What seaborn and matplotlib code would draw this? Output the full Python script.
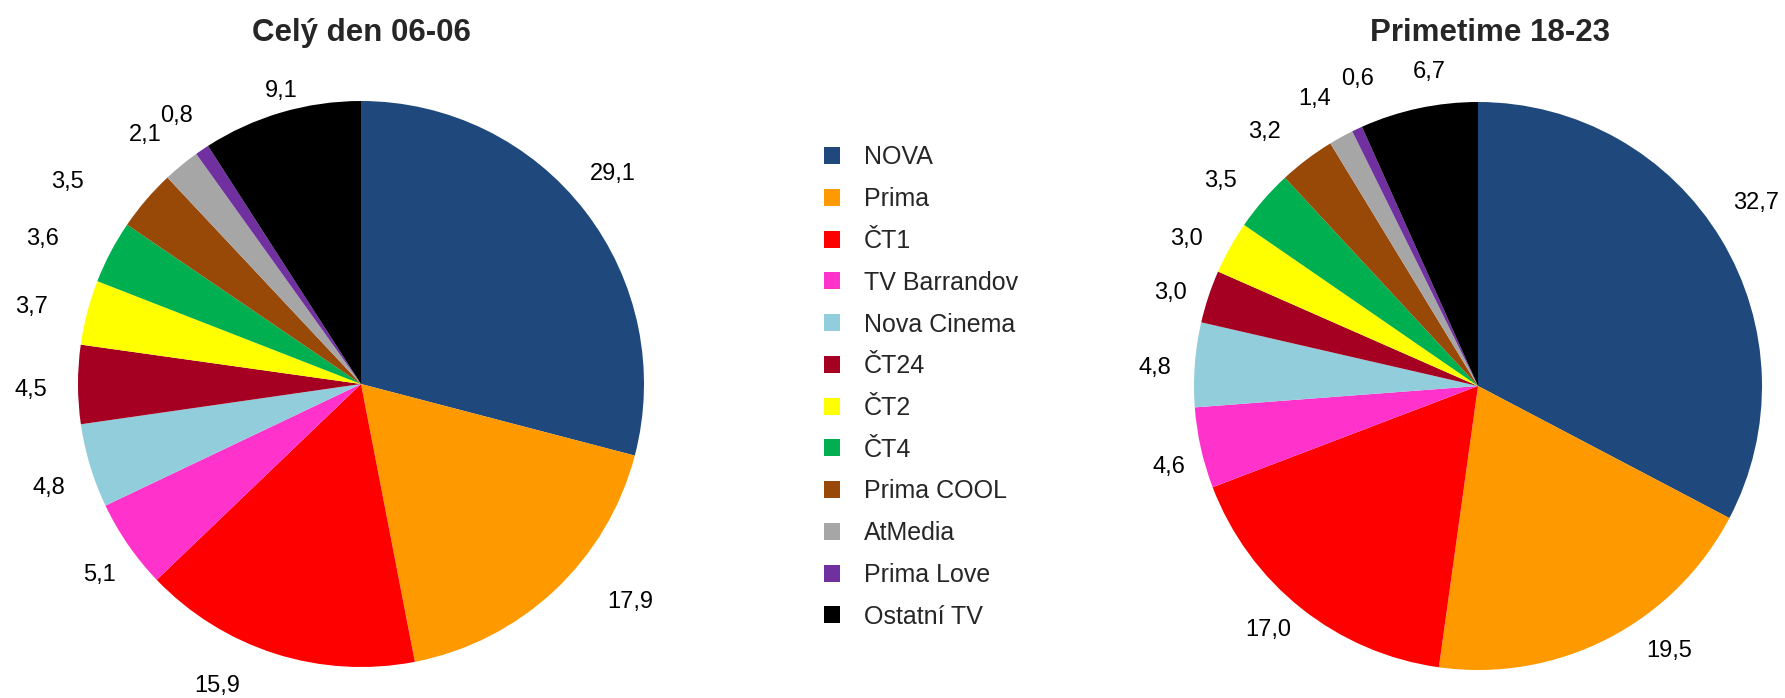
"""
Podíl sledovanosti stanic - celý den vs. primetime, dva koláče se společnou legendou.
"""
import matplotlib
matplotlib.use("Agg")
import matplotlib.pyplot as plt
from matplotlib.patches import Patch
import seaborn as sns

# ── data ─────────────────────────────────────────────────────────────────────
stations = ["NOVA", "Prima", "ČT1", "TV Barrandov", "Nova Cinema", "ČT24",
            "ČT2", "ČT4", "Prima COOL", "AtMedia", "Prima Love", "Ostatní TV"]
share_day   = [29.1, 17.9, 15.9, 5.1, 4.8, 4.5, 3.7, 3.6, 3.5, 2.1, 0.8, 9.1]
share_prime = [32.7, 19.5, 17.0, 4.6, 4.8, 3.0, 3.0, 3.5, 3.2, 1.4, 0.6, 6.7]
titles = ["Celý den 06-06", "Primetime 18-23"]

colors = ["#1F497D", "#FF9900", "#FF0000", "#FF33CC", "#92CDDC", "#A50021",
          "#FFFF00", "#00B050", "#984807", "#A6A6A6", "#7030A0", "#000000"]

# ruční posun popisků (px, y dolů) - napodobení rozmístění z Excelu
nudge_day = [(-15, -4), (39, -28), (-42, -19), (16, 0), (10, 7), (7, 5),
             (-4, 8), (-21, 12), (-38, 17), (-2, 11), (5, 11), (15, 30)]
nudge_prime = [(-11, -8), (37, -36), (1, -20), (21, 7), (14, 7), (13, 13),
               (4, 18), (-2, 16), (-10, 16), (-1, 9), (23, -1), (22, 17)]

sns.set_theme(style="white")
plt.rcParams["font.family"] = ["Liberation Sans", "DejaVu Sans"]

fig = plt.figure(figsize=(17.85, 6.98), dpi=100)

# ── pies ─────────────────────────────────────────────────────────────────────
W, H = 1785, 698
pies = [
    (share_day,   nudge_day,   361, 384, 283, titles[0], 361),
    (share_prime, nudge_prime, 1478, 386, 284, titles[1], 1490),
]
for vals, nudge, cx, cy, r, title, tx in pies:
    ax = fig.add_axes([(cx - r) / W, (H - cy - r) / H, 2 * r / W, 2 * r / H])
    it = iter(vals)
    _, _, autotexts = ax.pie(
        vals,
        colors=colors,
        startangle=90,
        counterclock=False,
        radius=1.0,
        autopct=lambda p, it=it: f"{next(it):.1f}".replace(".", ","),
        pctdistance=1.19,
        wedgeprops=dict(linewidth=0),
        textprops=dict(fontsize=17, color="black"),
    )
    for t, (dx, dy) in zip(autotexts, nudge):
        x, y = t.get_position()
        t.set_position((x + dx / r, y - dy / r))
    ax.set_xlim(-1, 1)
    ax.set_ylim(-1, 1)
    ax.set_aspect("auto")
    ax.axis("off")
    fig.text(tx / W, 1 - 33 / H, title, ha="center", va="center",
             fontsize=22.5, fontweight="bold")

# ── legend ───────────────────────────────────────────────────────────────────
handles = [Patch(facecolor=c, edgecolor="none", label=s)
           for s, c in zip(stations, colors)]
fig.legend(
    handles=handles,
    loc="upper left",
    bbox_to_anchor=(811 / W, 1 - 133 / H),
    frameon=False,
    borderpad=0,
    fontsize=18,
    handlelength=0.67,
    handleheight=0.67,
    handletextpad=0.95,
    labelspacing=0.71,
)

fig.savefig("out.png", dpi=100)
plt.close()
